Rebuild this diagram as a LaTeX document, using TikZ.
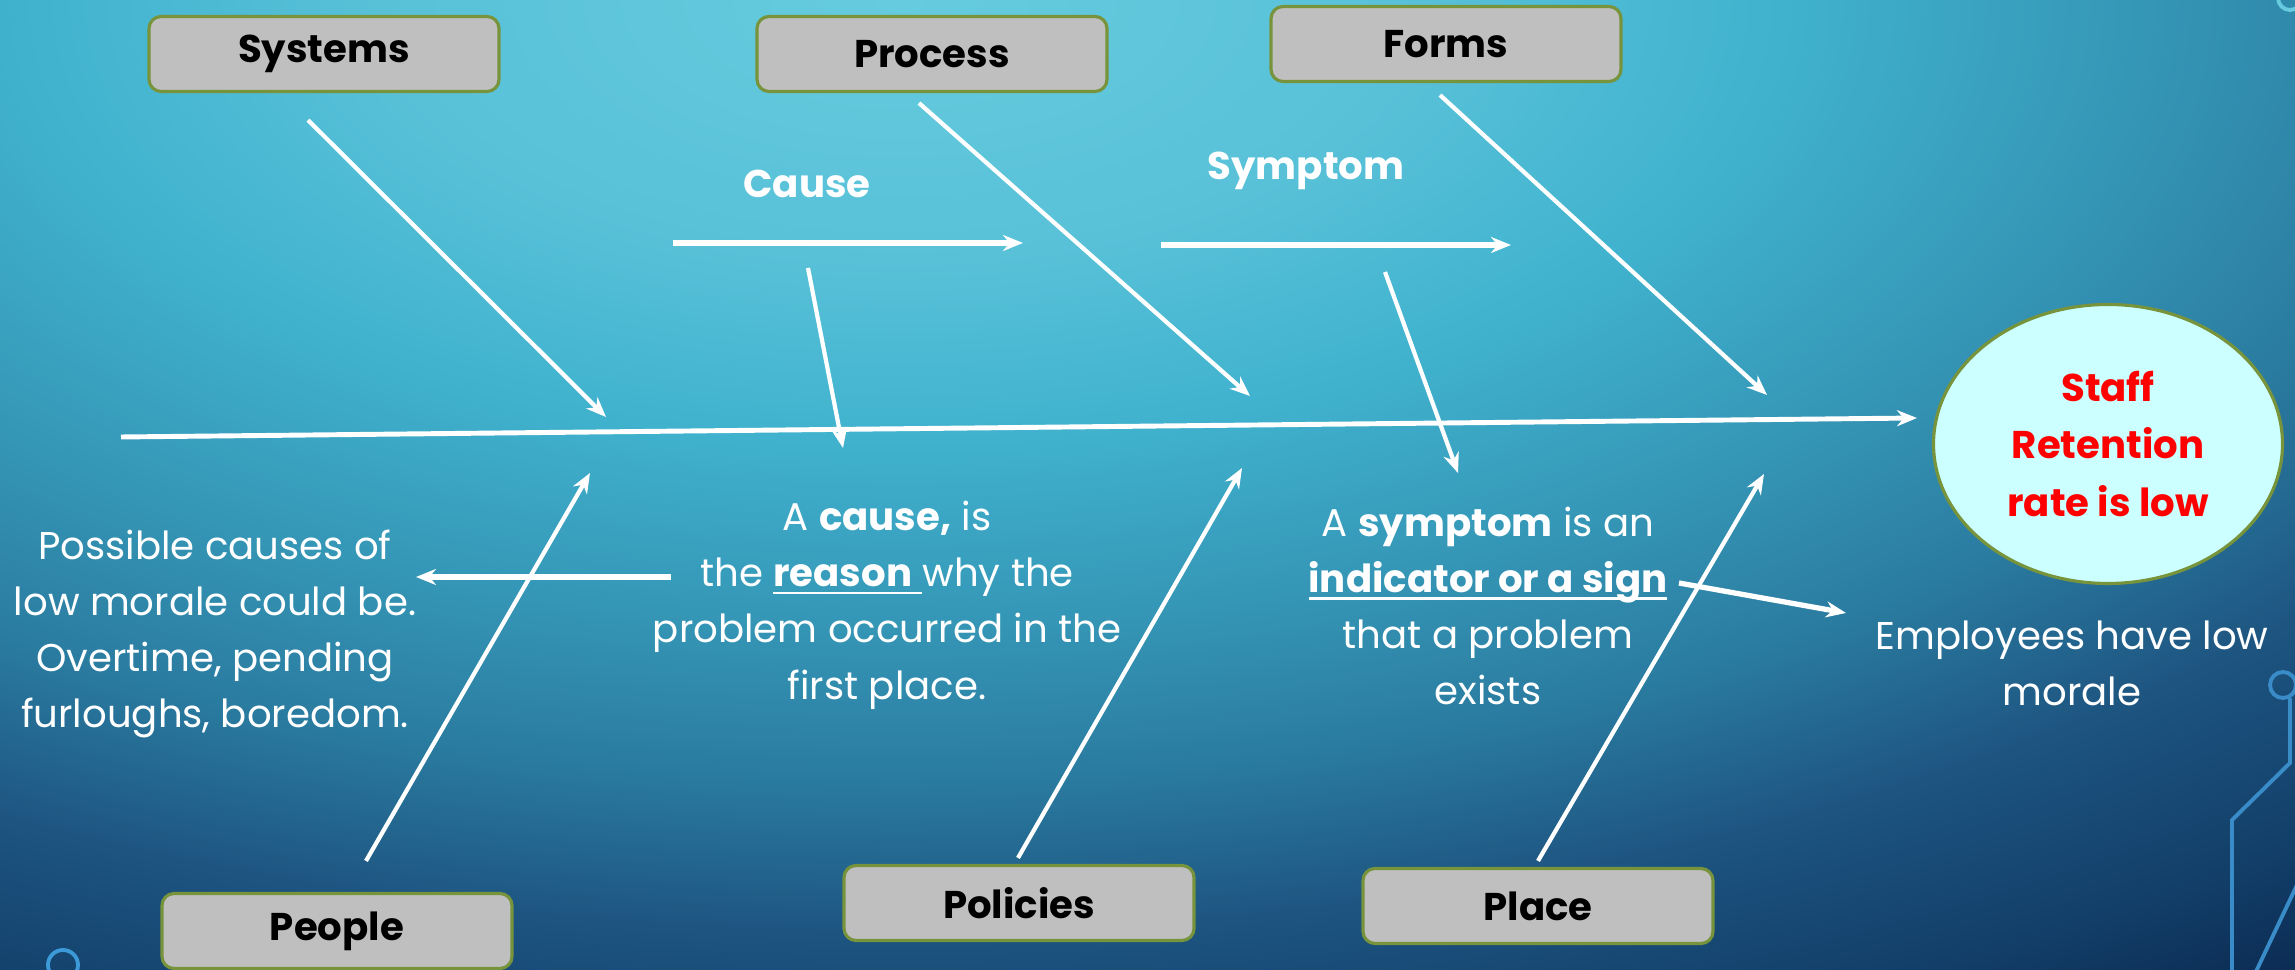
\documentclass[tikz,border=0pt]{standalone}
\usepackage{fontspec}
\setmainfont{Poppins}
\usepackage{tikz}
\usetikzlibrary{arrows.meta, positioning, shapes.geometric}
\definecolor{boxgray}{RGB}{191, 191, 191}
\definecolor{boxgreen}{RGB}{119, 147, 60}
\definecolor{effectfill}{RGB}{204, 255, 255}
\definecolor{effectred}{RGB}{255, 0, 0}
\definecolor{decoblue}{RGB}{58, 140, 200}
\definecolor{decolight}{RGB}{61, 154, 216}
\definecolor{bgA}{RGB}{102, 203, 222}
\definecolor{bgB}{RGB}{88, 193, 216}
\definecolor{bgC}{RGB}{64, 178, 206}
\definecolor{bgD}{RGB}{53, 150, 182}
\definecolor{bgE}{RGB}{42, 123, 160}
\definecolor{bgF}{RGB}{29, 84, 128}
\definecolor{bgG}{RGB}{18, 63, 105}
\definecolor{bgH}{RGB}{6, 25, 63}
% the central 50bp square of the shading is fitted to the path
\pgfdeclareradialshading{slidebg}{\pgfpointorigin}{color(0bp)=(bgA); color(5bp)=(bgB); color(8.5bp)=(bgC); color(12bp)=(bgD); color(15bp)=(bgE); color(18bp)=(bgF); color(21bp)=(bgG); color(25bp)=(bgH); color(50bp)=(bgH)}
% underline close to the baseline
\newcommand{\undl}[1]{\setbox0\hbox{#1}\rlap{\rule[-0.2em]{\wd0}{0.07em}}\box0}

\begin{document}
\begin{tikzpicture}[x=0.1mm, y=-0.1mm,
    cat/.style={rectangle, rounded corners=1.2mm, draw=boxgreen, fill=boxgray, line width=0.9pt, minimum width=35mm, minimum height=7.5mm, font=\fontsize{11}{13}\selectfont\bfseries, text=black},
    effect/.style={ellipse, draw=boxgreen, fill=effectfill, line width=0.9pt, minimum width=34.9mm, minimum height=27.9mm, inner sep=0pt, align=center, font=\fontsize{11}{16.5}\selectfont\bfseries, text=effectred},
    note/.style={text=white, align=center, font=\fontsize{11}{16}\selectfont},
    label/.style={text=white, font=\fontsize{11}{13}\selectfont\bfseries},
    bone/.style={-{Stealth[length=2mm, width=1.6mm]}, white, line width=1.2pt},
    spine/.style={-{Stealth[length=2mm, width=1.6mm]}, white, line width=1.4pt},
    pointer/.style={-{Stealth[length=2mm, width=1.6mm]}, white, line width=1.5pt},
    deco/.style={draw=decoblue, line width=1.1pt}
]

% Background
\useasboundingbox (0,0) rectangle (2295,970);
\begin{scope}
    \clip (0,0) rectangle (2295,970);
    \shade[shading=slidebg] (900,0) ellipse [x radius=2600, y radius=1300];
    \draw[deco] (2290,698) -- (2290,763) -- (2232,820) -- (2232,980);
    \draw[deco] (2305,868) -- (2252,980);
    \draw[deco] (2283,685) circle [radius=13];
    \draw[deco, draw=bgA] (2290,-2) circle [radius=12];
    \draw[deco, draw=decolight] (63,965) circle [radius=15];
\end{scope}

% Category boxes
\node[cat] (systems) at (324,54) {Systems};
\node[cat] (process) at (932,54) {Process};
\node[cat] (forms) at (1446,44) {Forms};
\node[cat] (people) at (337,931) {People};
\node[cat] (policies) at (1019,903) {Policies};
\node[cat] (place) at (1538,906) {Place};

% Effect
\node[effect] (effect) at (2108,444) {Staff\\Retention\\rate is low};

% Texts
\node[label] (causelbl) at (807,184) {Cause};
\node[label] (symptomlbl) at (1306,171) {Symptom};
\node[note] (possible) at (215,634) {Possible causes of\\low morale could be.\\Overtime, pending\\furloughs, boredom.};
\node[note] (causenote) at (887,605) {A \textbf{cause,} is\\the \undl{\textbf{reason} }why the\\problem occurred in the\\first place.};
\node[note] (symptomnote) at (1488,606) {A \textbf{symptom} is an\\\undl{\textbf{indicator or a sign}}\\that a problem\\exists};
\node[note] (employees) at (2072,663) {Employees have low\\morale};

% Spine
\coordinate (spinetail) at (121,437);
\coordinate (spinehead) at (1917,418);
\draw[spine] (spinetail) -- (spinehead);

% Bones
\coordinate (syshead) at (606,417);
\coordinate (prohead) at (1250,396);
\coordinate (formhead) at (1767,395);
\coordinate (pplhead) at (590,473);
\coordinate (polhead) at (1242,468);
\coordinate (plahead) at (1764,474);
\draw[bone] ([shift={(-16,27)}]systems.south) -- (syshead);
\draw[bone] ([shift={(-13,10)}]process.south) -- (prohead);
\draw[bone] ([shift={(-6,12)}]forms.south) -- (formhead);
\draw[bone] ([shift={(29,-31)}]people.north) -- (pplhead);
\draw[bone] ([shift={(-1,-6)}]policies.north) -- (polhead);
\draw[bone] ([shift={(0,-6)}]place.north) -- (plahead);

% Cause and symptom pointers
\coordinate (causetail) at (673,243);
\coordinate (causeend) at (1023,243);
\coordinate (symptomtail) at (1161,245);
\coordinate (symptomend) at (1511,245);
\draw[pointer] (causetail) -- (causeend);
\draw[pointer] (symptomtail) -- (symptomend);
\coordinate (causedown) at (843,448);
\coordinate (symptomdown) at (1458,473);
\draw[bone] (808,268) -- (causedown);
\draw[bone] (1385,272) -- (symptomdown);
\coordinate (possiblein) at (416,577);
\coordinate (employeesin) at (1846,613);
\draw[pointer] (671,577) -- (possiblein);
\draw[pointer] (1679,583) -- (employeesin);

\end{tikzpicture}
\end{document}
